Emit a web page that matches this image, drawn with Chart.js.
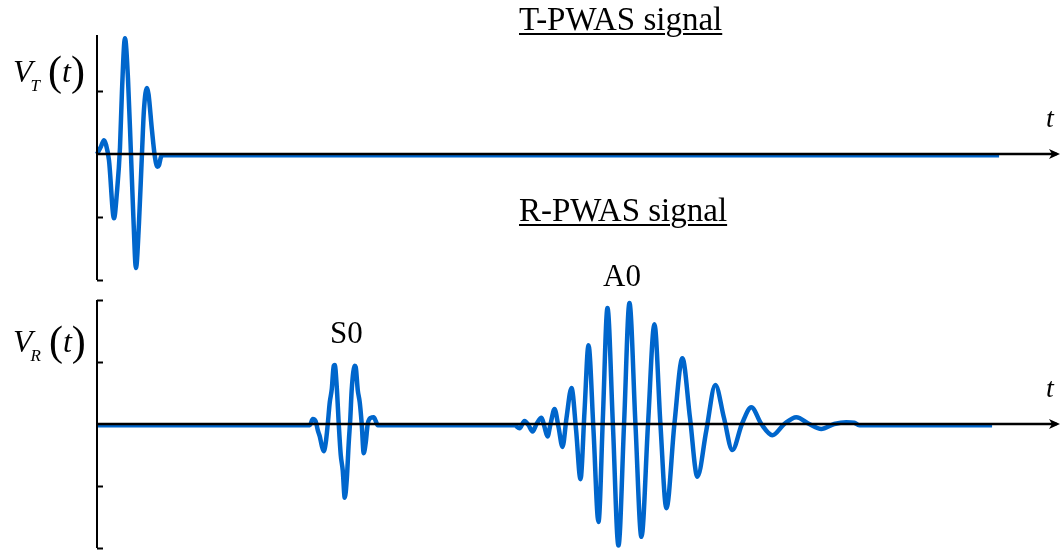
<!DOCTYPE html>
<html>
<head>
<meta charset="utf-8">
<script src="https://cdn.jsdelivr.net/npm/chart.js@4/dist/chart.umd.min.js"></script>
<style>
  html, body { margin: 0; padding: 0; background: #fff; }
  #wrap { position: relative; width: 1063px; height: 550px; overflow: hidden; font-family: "Liberation Serif", "Times New Roman", serif; color: #000; }
  canvas { position: absolute; left: 0; }
  .txt { position: absolute; white-space: nowrap; line-height: 1; }
  .title { font-size: 33px; text-decoration: underline; text-decoration-thickness: 1.5px; text-underline-offset: 3px; }
  .wave { font-size: 31px; }
  .it { font-style: italic; }
  .sym { font-size: 32px; }
  .sym .sub { font-size: 17px; font-style: italic; position: relative; top: 9px; margin-left: -2px; }
  .sym .par { font-size: 42px; position: relative; top: 3px; }
</style>
</head>
<body>
<div id="wrap">
  <canvas id="tx" width="1063" height="290" style="top:0"></canvas>
  <canvas id="rx" width="1063" height="260" style="top:290px"></canvas>

  <div class="txt title" style="left:519px; top:3px;">T-PWAS signal</div>
  <div class="txt title" style="left:519px; top:194px;">R-PWAS signal</div>
  <div class="txt wave" style="left:330px; top:317px;">S0</div>
  <div class="txt wave" style="left:603px; top:260px;">A0</div>

  <div class="txt sym" style="left:13px; top:47px;"><span class="it">V</span><span class="sub">T</span> <span class="par">(</span><span class="it">t</span><span class="par">)</span></div>
  <div class="txt sym" style="left:13px; top:317px;"><span class="it">V</span><span class="sub">R</span> <span class="par">(</span><span class="it">t</span><span class="par">)</span></div>

  <div class="txt it" style="left:1046px; top:104px; font-size:28px;">t</div>
  <div class="txt it" style="left:1046px; top:374px; font-size:28px;">t</div>
</div>

<script>
// Time axis in microseconds, voltage in normalised units.
const TIME_END = 241;
const TICK_VALUES = [-2, -1, 1, 2];

// Transmitter (T-PWAS) excitation burst
const T_TIME = [0, 1.0, 1.75, 2.25, 3.0, 4.25, 5.0, 5.75, 6.25, 7.0, 7.75, 8.5, 9.1, 9.75, 10.5, 11.25, 11.75, 12.5, 12.9, 13.75, 14.5, 15.1, 15.5, 16.0, 16.5, 225.75];
const T_VOLT = [0, 0.12, 0.22, 0.15, -0.1, -1.02, -0.6, 0.1, 1.0, 1.84, 1.2, 0.0, -1.0, -1.81, -1.1, 0.0, 0.7, 1.05, 0.95, 0.38, -0.05, -0.2, -0.18, -0.05, -0.02, -0.02];
const T_Y_LIMITS = [-2, 1.89];

// Receiver (R-PWAS) signal: S0 packet followed by the A0 packet
const R_TIME = [
  0, 53.25, 54.0, 54.75, 55.25, 55.75, 56.25, 56.75, 57.25, 57.75, 58.25, 58.75, 59.25, 59.5, 60.0, 60.5,
  61.0, 61.5, 62.0, 62.5, 63.0, 63.4, 63.75, 64.5, 64.75, 65.25, 65.75, 66.25, 66.75, 67.25, 67.75, 68.5,
  69.25, 69.75, 70.25,
  104.5, 105.75, 107.0, 108.0, 109.0, 110.0, 111.25, 112.0, 112.75, 113.5, 114.5, 115.5, 116.5, 117.5,
  118.75, 119.9, 121.0, 122.0, 123.0, 124.25, 125.5, 126.6, 127.75, 129.1, 130.5, 131.9, 133.25, 134.75,
  136.25, 137.9, 139.5, 141.0, 142.5, 144.5, 146.5, 148.4, 150.25, 152.5, 154.75, 156.9, 159.0, 161.4,
  163.75, 166.25, 169.0, 172.0, 175.0, 178.25, 181.25, 184.5, 187.5, 189.5, 190.75, 224.0
];
const R_VOLT = [
  -0.02, -0.02, 0.08, 0.04, -0.1, -0.2, -0.35, -0.44, -0.3, 0.0, 0.35, 0.56, 0.94, 0.95, 0.6, 0.0,
  -0.5, -0.75, -1.19, -0.9, -0.3, 0.1, 0.56, 0.94, 0.92, 0.55, 0.35, 0.0, -0.47, -0.3, 0.0, 0.1,
  0.11, 0.05, -0.02,
  -0.02, -0.07, 0.05, -0.02, -0.12, 0.0, 0.10, -0.05, -0.2, 0.0, 0.24, -0.05, -0.37, 0.1,
  0.58, -0.1, -0.89, 0.2, 1.27, -0.1, -1.58, 0.1, 1.87, 0.0, -1.96, 0.0, 1.95, 0.0,
  -1.82, 0.0, 1.61, 0.0, -1.36, 0.0, 1.06, 0.1, -0.85, -0.1, 0.63, 0.1, -0.42, 0.0,
  0.27, 0.0, -0.18, 0.0, 0.11, 0.0, -0.08, 0.0, 0.03, 0.02, -0.02, -0.02
];
const R_Y_LIMITS = [-2, 2];

const SIGNAL_COLOR = '#0066CC';

// Draws the bare y-axis with inward ticks and the time axis with an arrowhead.
const axesPlugin = {
  id: 'signalAxes',
  afterDatasetsDraw(chart) {
    const { ctx, chartArea, scales } = chart;
    const x0 = scales.x.getPixelForValue(0);
    const y0 = scales.y.getPixelForValue(0);
    ctx.save();
    ctx.strokeStyle = '#000';
    ctx.fillStyle = '#000';

    // vertical axis
    ctx.lineWidth = 2;
    ctx.beginPath();
    ctx.moveTo(x0, chartArea.top);
    ctx.lineTo(x0, chartArea.bottom);
    ctx.stroke();

    // tick stubs
    TICK_VALUES.forEach(v => {
      if (v < scales.y.min || v > scales.y.max) return;
      const yy = Math.round(scales.y.getPixelForValue(v)) + 0.5;
      ctx.beginPath();
      ctx.moveTo(x0, yy);
      ctx.lineTo(x0 + 6, yy);
      ctx.stroke();
    });

    // time axis with arrow
    const xr = chartArea.right;
    ctx.lineWidth = 2.5;
    ctx.beginPath();
    ctx.moveTo(x0, y0);
    ctx.lineTo(xr - 3, y0);
    ctx.stroke();
    ctx.beginPath();
    ctx.moveTo(xr, y0);
    ctx.lineTo(xr - 11, y0 - 5);
    ctx.lineTo(xr - 8, y0);
    ctx.lineTo(xr - 11, y0 + 5);
    ctx.closePath();
    ctx.fill();
    ctx.restore();
  }
};

function makeSignalChart(id, times, volts, limits, padding) {
  const points = times.map((t, i) => ({ x: t, y: volts[i] }));
  return new Chart(document.getElementById(id), {
    type: 'line',
    data: {
      datasets: [{
        data: points,
        borderColor: SIGNAL_COLOR,
        borderWidth: 4.5,
        pointRadius: 0,
        fill: false,
        cubicInterpolationMode: 'monotone',
        clip: false
      }]
    },
    options: {
      responsive: false,
      animation: false,
      devicePixelRatio: 1,
      layout: { padding },
      plugins: { legend: { display: false }, tooltip: { enabled: false } },
      scales: {
        x: { type: 'linear', min: 0, max: TIME_END, display: false },
        y: { type: 'linear', min: limits[0], max: limits[1], display: false }
      }
    },
    plugins: [axesPlugin]
  });
}

makeSignalChart('tx', T_TIME, T_VOLT, T_Y_LIMITS, { left: 97, right: 3, top: 35, bottom: 10 });
makeSignalChart('rx', R_TIME, R_VOLT, R_Y_LIMITS, { left: 97, right: 3, top: 10, bottom: 2 });
</script>
</body>
</html>
